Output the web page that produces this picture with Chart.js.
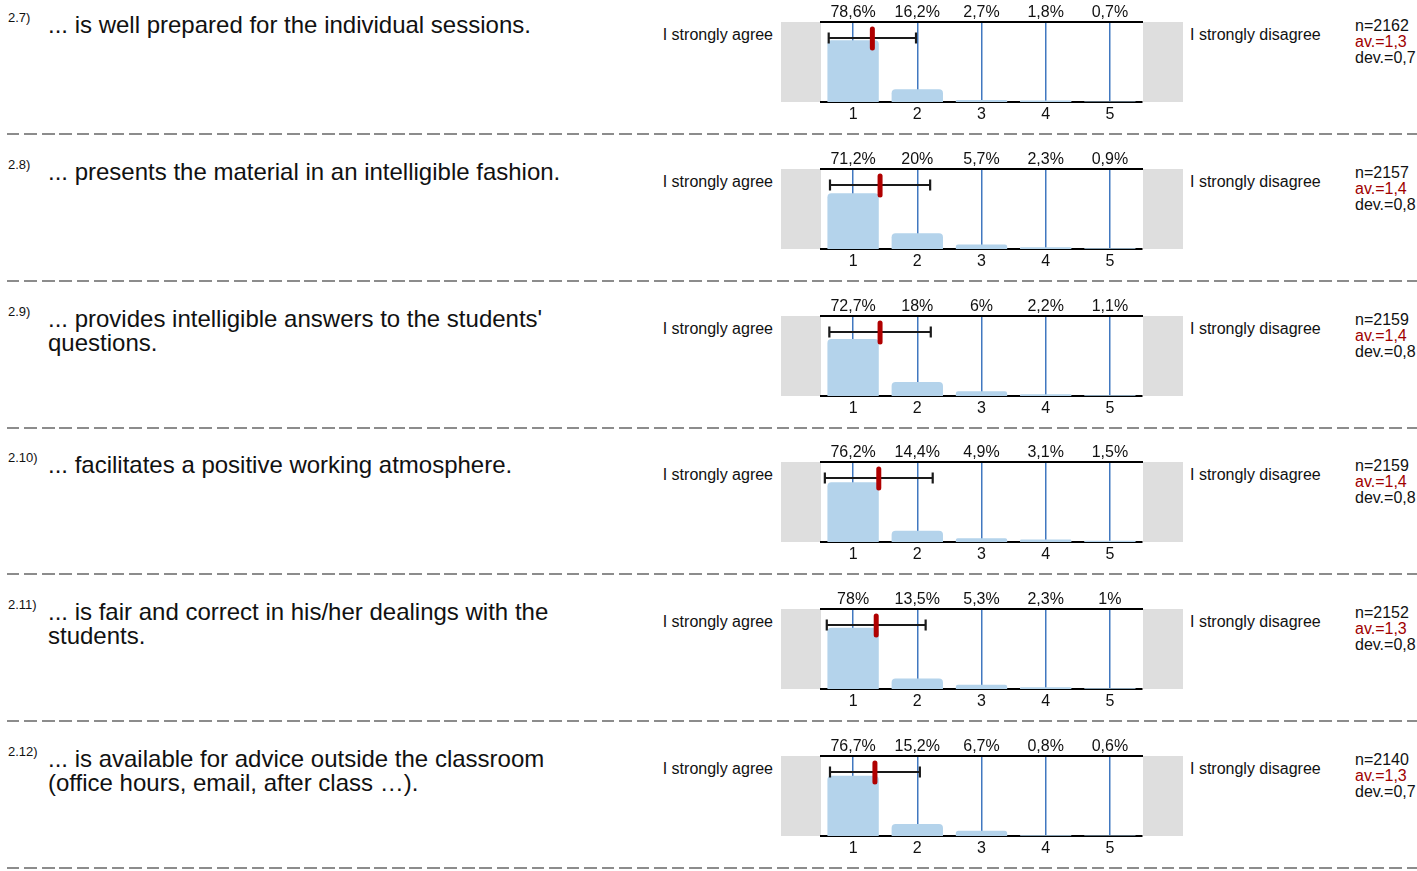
<!DOCTYPE html>
<html>
<head>
<meta charset="utf-8">
<script src="https://cdn.jsdelivr.net/npm/chart.js@4/dist/chart.umd.min.js"></script>
<style>
  body { margin:0; width:1417px; height:871px; background:#fff; position:relative; overflow:hidden;
         font-family:"Liberation Sans", Arial, sans-serif; color:#111; }
  .abs { position:absolute; white-space:nowrap; }
  .num { font-size:13px; line-height:14px; }
  .q { font-size:24px; line-height:24px; white-space:pre; }
  .lbl { font-size:16px; line-height:18px; }
  .stat { font-size:16px; line-height:16px; }
  .av { color:#a00000; }
  .sep { position:absolute; left:7px; width:1410px; height:1.5px;
         background:repeating-linear-gradient(to right, #8c8c8c 0 12.5px, transparent 12.5px 17.5px); }
  canvas { position:absolute; }
</style>
</head>
<body>
<script>
var numbers = ["2.7)", "2.8)", "2.9)", "2.10)", "2.11)", "2.12)"];
var questions = [
  "... is well prepared for the individual sessions.",
  "... presents the material in an intelligible fashion.",
  "... provides intelligible answers to the students'\nquestions.",
  "... facilitates a positive working atmosphere.",
  "... is fair and correct in his/her dealings with the\nstudents.",
  "... is available for advice outside the classroom\n(office hours, email, after class \u2026)."
];
var categories = ["1", "2", "3", "4", "5"];
var pct1 = [78.6, 16.2, 2.7, 1.8, 0.7];
var pct2 = [71.2, 20, 5.7, 2.3, 0.9];
var pct3 = [72.7, 18, 6, 2.2, 1.1];
var pct4 = [76.2, 14.4, 4.9, 3.1, 1.5];
var pct5 = [78, 13.5, 5.3, 2.3, 1];
var pct6 = [76.7, 15.2, 6.7, 0.8, 0.6];
var series = [pct1, pct2, pct3, pct4, pct5, pct6];
var means = [1.30, 1.42, 1.42, 1.40, 1.36, 1.34];
var devs = [0.68, 0.78, 0.79, 0.84, 0.77, 0.70];
var nLabels = ["2162", "2157", "2159", "2159", "2152", "2140"];
var avLabels = ["1,3", "1,4", "1,4", "1,4", "1,3", "1,3"];
var devLabels = ["0,7", "0,8", "0,8", "0,8", "0,8", "0,7"];

function add(cls, x, y, html) {
  var d = document.createElement("div");
  d.className = "abs " + cls;
  d.style.left = x + "px";
  d.style.top = y + "px";
  d.innerHTML = html;
  document.body.appendChild(d);
  return d;
}

var greyBoxes = {
  id: "greyBoxes",
  beforeDraw: function(chart) {
    var a = chart.chartArea, ctx = chart.ctx;
    ctx.save();
    ctx.fillStyle = "#dedede";
    ctx.fillRect(a.left - 40, a.top, 40, a.bottom - a.top);
    ctx.fillRect(a.right + 1, a.top, 41, a.bottom - a.top);
    ctx.restore();
  }
};

var errorBar = {
  id: "errorBar",
  afterDraw: function(chart, args, opts) {
    var x = chart.scales.x, a = chart.chartArea, ctx = chart.ctx;
    var y = a.top + 16;
    var x0 = x.getPixelForValue(opts.mean - opts.dev - 1);
    var x1 = x.getPixelForValue(opts.mean + opts.dev - 1);
    var xm = x.getPixelForValue(opts.mean - 1);
    ctx.save();
    ctx.strokeStyle = "#1a1a1a";
    ctx.lineWidth = 2.2;
    ctx.beginPath();
    ctx.moveTo(x0, y); ctx.lineTo(x1, y);
    ctx.moveTo(x0, y - 5.5); ctx.lineTo(x0, y + 5.5);
    ctx.moveTo(x1, y - 5.5); ctx.lineTo(x1, y + 5.5);
    ctx.stroke();
    ctx.strokeStyle = "#b00000";
    ctx.lineWidth = 5;
    ctx.lineCap = "round";
    ctx.beginPath();
    ctx.moveTo(xm, a.top + 7); ctx.lineTo(xm, a.top + 26);
    ctx.stroke();
    ctx.restore();
  }
};

var fontSpec = { family: "'Liberation Sans', Arial, sans-serif", size: 16 };

for (var i = 0; i < 6; i++) {
  var T = Math.round(22 + i * 146.8);
  add("num", 8, T - 11, numbers[i]);
  add("q", 48, T - 9, questions[i]);
  add("lbl", 0, T + 4, "I strongly agree").style.cssText += "left:auto;right:" + (1417 - 773) + "px;";
  add("lbl", 1190, T + 4, "I strongly disagree");
  add("stat", 1355, T - 4, "n=" + nLabels[i] + "<br><span class='av'>av.=" + avLabels[i] + "</span><br>dev.=" + devLabels[i]);
  var sep = document.createElement("div");
  sep.className = "sep";
  sep.style.top = (T + 111) + "px";
  document.body.appendChild(sep);

  var cv = document.createElement("canvas");
  cv.width = 402; cv.height = 124;
  cv.style.left = "781px"; cv.style.top = (T - 22) + "px";
  cv.style.width = "402px"; cv.style.height = "124px";
  document.body.appendChild(cv);

  var pctLabels = series[i].map(function(v) { return String(v).replace(".", ",") + "%"; });

  new Chart(cv, {
    type: "bar",
    data: {
      labels: categories,
      datasets: [{
        data: series[i],
        backgroundColor: "#b4d3eb",
        borderRadius: { topLeft: 4, topRight: 4 },
        borderSkipped: "bottom",
        barPercentage: 0.8,
        categoryPercentage: 1
      }]
    },
    options: {
      responsive: false,
      animation: false,
      devicePixelRatio: 1,
      layout: { padding: { left: 40, right: 41, top: 0, bottom: 0 } },
      plugins: {
        legend: { display: false },
        tooltip: { enabled: false },
        errorBar: { mean: means[i], dev: devs[i] }
      },
      scales: {
        x: {
          type: "category",
          position: "bottom",
          offset: true,
          z: 1,
          grid: { offset: false, color: "#4178c0", lineWidth: 1.5, drawTicks: false, tickLength: 0 },
          border: { display: true, color: "#000", width: 2 },
          ticks: { color: "#111", font: fontSpec, padding: 3, maxRotation: 0 },
          afterFit: function(s) { s.height = 22; }
        },
        xTop: {
          type: "category",
          axis: "x",
          position: "top",
          labels: pctLabels,
          offset: true,
          grid: { display: false, drawTicks: false, tickLength: 0 },
          border: { display: true, color: "#000", width: 2 },
          ticks: { color: "#111", font: fontSpec, padding: 0, maxRotation: 0, autoSkip: false },
          afterFit: function(s) { s.height = 22; }
        },
        y: { display: false, min: 0, max: 102 }
      }
    },
    plugins: [greyBoxes, errorBar]
  });
}
</script>
</body>
</html>
